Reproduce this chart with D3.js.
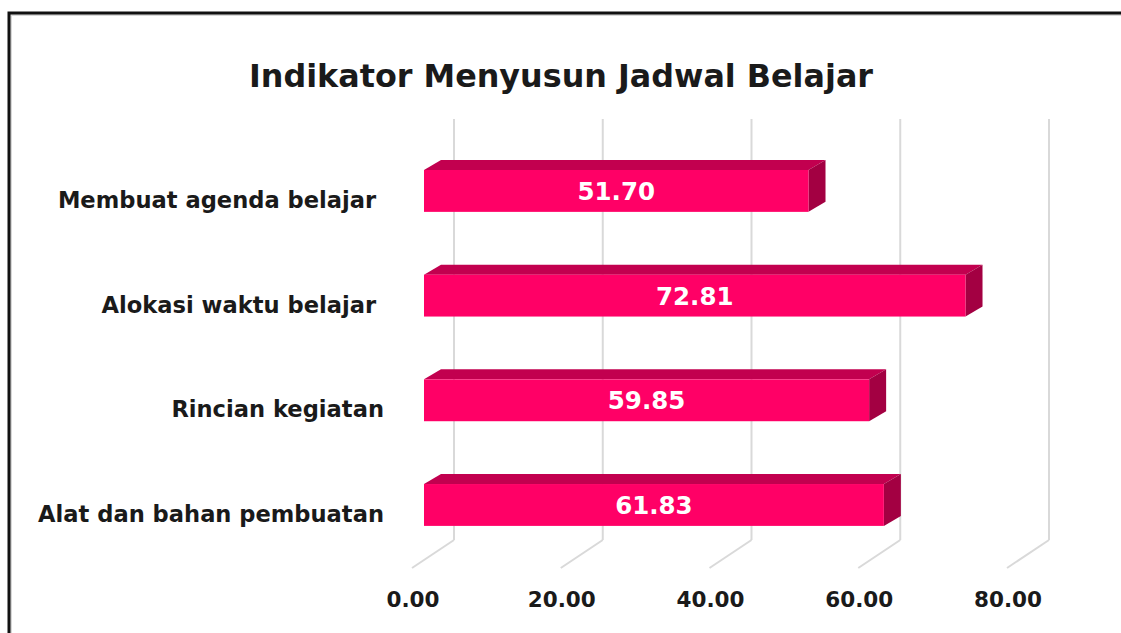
<!DOCTYPE html>
<html>
<head>
<meta charset="utf-8">
<script src="https://cdn.jsdelivr.net/npm/d3@7"></script>
<style>
  html, body { margin: 0; padding: 0; background: #fff; overflow: hidden; }
  svg { display: block; }
  text { font-family: 'DejaVu Sans', Verdana, sans-serif; font-weight: bold; }
</style>
</head>
<body>
<svg id="chart"></svg>
<script>
// data
const categories = ['Membuat agenda belajar ', 'Alokasi waktu belajar ', 'Rincian kegiatan', 'Alat dan bahan pembuatan'];
const values = [51.70, 72.81, 59.85, 61.83];
const tickValues = [0, 20, 40, 60, 80];
const chartTitle = 'Indikator Menyusun Jadwal Belajar';

const config = {
  width: 1121,
  height: 633,
  barFront: '#ff0066',
  barTop: '#c2004f',
  barSide: '#a30042',
  grid: '#d9d9d9',
  // 3d depth offsets (px)
  floorDx: -42, floorDy: 28,   // back wall -> floor front edge
  faceDx: -30, faceDy: 20,     // back wall -> bar front face
  barDx: 17, barDy: -10,       // bar front face -> bar back face
  wallTop: 119, wallBottom: 540,
};

const svg = d3.select('#chart')
  .attr('width', config.width)
  .attr('height', config.height);

// outer border (cut off on right/bottom like the source)
svg.append('rect')
  .attr('x', 11).attr('y', 15)
  .attr('width', 1200).attr('height', 700)
  .attr('fill', 'none')
  .attr('stroke', '#d8d8d8')
  .attr('stroke-width', 2);
svg.append('rect')
  .attr('x', 9).attr('y', 13)
  .attr('width', 1200).attr('height', 700)
  .attr('fill', 'none')
  .attr('stroke', '#111')
  .attr('stroke-width', 3);

// scales: x on the back wall, y bands for the front face of the bars
const xScale = d3.scaleLinear()
  .domain([0, 80])
  .range([454, 1049]);

const yScale = d3.scaleBand()
  .domain(categories)
  .range([138.6, 557.3])
  .paddingInner(0.6)
  .paddingOuter(0.3);

// gridlines: vertical on back wall, diagonal on floor
const grid = svg.append('g').attr('class', 'grid');
grid.selectAll('.wall-line')
  .data(tickValues)
  .join('line')
  .attr('class', 'wall-line')
  .attr('x1', (d) => xScale(d)).attr('x2', (d) => xScale(d))
  .attr('y1', config.wallTop).attr('y2', config.wallBottom)
  .attr('stroke', config.grid)
  .attr('stroke-width', 2);
grid.selectAll('.floor-line')
  .data(tickValues)
  .join('line')
  .attr('class', 'floor-line')
  .attr('x1', (d) => xScale(d)).attr('y1', config.wallBottom)
  .attr('x2', (d) => xScale(d) + config.floorDx).attr('y2', config.wallBottom + config.floorDy)
  .attr('stroke', config.grid)
  .attr('stroke-width', 2);

// tick labels under the floor front edge
svg.append('g')
  .selectAll('text')
  .data(tickValues)
  .join('text')
  .attr('x', (d) => xScale(d) + config.floorDx + 1)
  .attr('y', 607)
  .attr('text-anchor', 'middle')
  .attr('font-size', 21.5)
  .attr('fill', '#1a1a1a')
  .text((d) => d.toFixed(2));

// bars
const fx = (v) => xScale(v) + config.faceDx;
const bh = yScale.bandwidth();
const bars = svg.append('g')
  .selectAll('g')
  .data(categories.map((c, i) => ({ cat: c, value: values[i] })))
  .join('g');

// top face
bars.append('path')
  .attr('fill', config.barTop)
  .attr('d', (d) => {
    const x0 = fx(0), x1 = fx(d.value), y = yScale(d.cat);
    return `M${x0},${y}L${x0 + config.barDx},${y + config.barDy}L${x1 + config.barDx},${y + config.barDy}L${x1},${y}Z`;
  });
// side face
bars.append('path')
  .attr('fill', config.barSide)
  .attr('d', (d) => {
    const x1 = fx(d.value), y = yScale(d.cat);
    return `M${x1},${y}L${x1 + config.barDx},${y + config.barDy}L${x1 + config.barDx},${y + bh + config.barDy}L${x1},${y + bh}Z`;
  });
// front face
bars.append('rect')
  .attr('x', fx(0))
  .attr('y', (d) => yScale(d.cat))
  .attr('width', (d) => fx(d.value) - fx(0))
  .attr('height', bh)
  .attr('fill', config.barFront);
// value labels
bars.append('text')
  .attr('x', (d) => (fx(0) + fx(d.value)) / 2)
  .attr('y', (d) => yScale(d.cat) + bh / 2 + 9)
  .attr('text-anchor', 'middle')
  .attr('font-size', 24.5)
  .attr('fill', '#fff')
  .text((d) => d.value.toFixed(2));

// category labels
svg.append('g')
  .selectAll('text')
  .data(categories)
  .join('text')
  .attr('x', 384)
  .attr('y', (d) => yScale(d) + bh / 2 + 17)
  .attr('text-anchor', 'end')
  .attr('font-size', 22.6)
  .attr('fill', '#1a1a1a')
  .style('white-space', 'pre')
  .text((d) => d);

// title
svg.append('text')
  .attr('x', 561)
  .attr('y', 87)
  .attr('text-anchor', 'middle')
  .attr('font-size', 31.8)
  .attr('fill', '#1a1a1a')
  .text(chartTitle);
</script>
</body>
</html>
